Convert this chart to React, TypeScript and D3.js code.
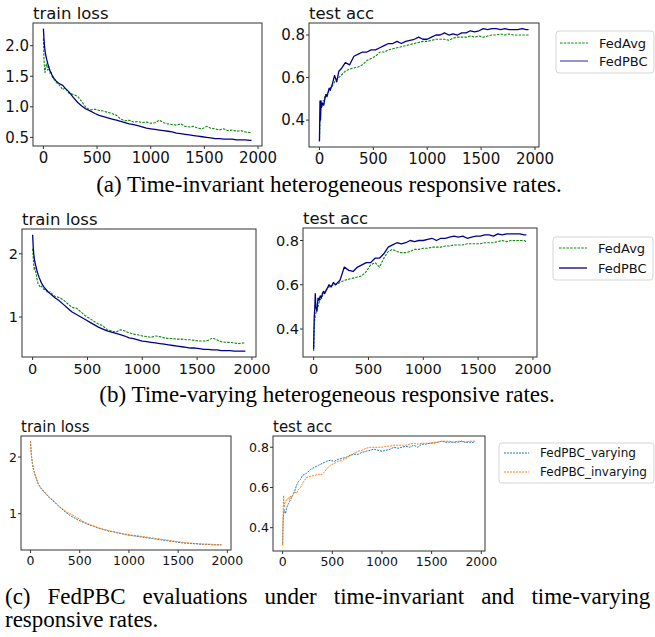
import React, { useEffect } from 'react';
import * as d3 from 'd3';

// Communication rounds at which values are sampled (shared by all series)
const ROUNDS = [0, 5, 10, 15, 20, 30, 40, 50, 60, 70, 80, 90, 100, 120, 140, 160, 180, 200, 240, 280, 320, 360, 400, 440, 480, 520, 560, 600, 640, 680, 720, 760, 800, 840, 880, 920, 960, 1000, 1040, 1080, 1120, 1160, 1200, 1240, 1280, 1320, 1360, 1400, 1440, 1480, 1520, 1560, 1600, 1640, 1680, 1720, 1760, 1800, 1840, 1880, 1920, 1940];

// (a) time-invariant
const A_LOSS_AVG = [2.12, 1.80, 1.62, 1.56, 1.66, 1.70, 1.60, 1.66, 1.55, 1.58, 1.50, 1.46, 1.45, 1.40, 1.37, 1.33, 1.28, 1.31, 1.22, 1.20, 1.17, 1.08, 0.98, 0.95, 0.96, 0.94, 0.93, 0.91, 0.89, 0.86, 0.80, 0.77, 0.78, 0.75, 0.76, 0.74, 0.75, 0.73, 0.74, 0.78, 0.74, 0.72, 0.71, 0.70, 0.72, 0.68, 0.67, 0.68, 0.65, 0.64, 0.68, 0.65, 0.64, 0.62, 0.64, 0.61, 0.62, 0.60, 0.61, 0.59, 0.58, 0.58];
const A_LOSS_PBC = [2.28, 2.12, 2.00, 1.92, 1.86, 1.78, 1.71, 1.65, 1.60, 1.56, 1.52, 1.49, 1.46, 1.42, 1.39, 1.37, 1.35, 1.31, 1.24, 1.15, 1.07, 1.01, 0.96, 0.93, 0.89, 0.86, 0.84, 0.82, 0.80, 0.78, 0.76, 0.74, 0.72, 0.71, 0.69, 0.67, 0.65, 0.64, 0.63, 0.62, 0.61, 0.60, 0.59, 0.57, 0.56, 0.55, 0.54, 0.53, 0.52, 0.51, 0.50, 0.49, 0.48, 0.48, 0.47, 0.47, 0.47, 0.46, 0.46, 0.46, 0.45, 0.45];
const A_ACC_AVG = [0.30, 0.40, 0.45, 0.47, 0.48, 0.49, 0.49, 0.51, 0.52, 0.52, 0.53, 0.54, 0.55, 0.56, 0.58, 0.59, 0.60, 0.61, 0.63, 0.64, 0.645, 0.65, 0.66, 0.68, 0.69, 0.70, 0.72, 0.72, 0.73, 0.735, 0.74, 0.745, 0.75, 0.755, 0.76, 0.765, 0.77, 0.77, 0.775, 0.78, 0.78, 0.78, 0.775, 0.785, 0.79, 0.79, 0.79, 0.795, 0.79, 0.795, 0.79, 0.795, 0.80, 0.80, 0.805, 0.80, 0.805, 0.80, 0.80, 0.80, 0.80, 0.80];
const A_ACC_PBC = [0.30, 0.49, 0.40, 0.49, 0.46, 0.48, 0.47, 0.50, 0.52, 0.51, 0.53, 0.55, 0.54, 0.57, 0.61, 0.58, 0.63, 0.64, 0.67, 0.66, 0.70, 0.71, 0.72, 0.72, 0.73, 0.73, 0.74, 0.75, 0.76, 0.76, 0.77, 0.76, 0.77, 0.775, 0.78, 0.79, 0.78, 0.78, 0.79, 0.80, 0.80, 0.81, 0.80, 0.805, 0.80, 0.81, 0.81, 0.82, 0.815, 0.82, 0.83, 0.825, 0.83, 0.83, 0.825, 0.83, 0.825, 0.825, 0.825, 0.83, 0.825, 0.825];

// (b) time-varying
const B_LOSS_AVG = [2.08, 1.95, 1.82, 1.75, 1.78, 1.70, 1.60, 1.52, 1.50, 1.47, 1.49, 1.46, 1.44, 1.43, 1.38, 1.40, 1.36, 1.33, 1.31, 1.27, 1.21, 1.15, 1.14, 1.08, 1.02, 0.98, 0.93, 0.89, 0.86, 0.80, 0.78, 0.76, 0.80, 0.78, 0.75, 0.73, 0.72, 0.70, 0.69, 0.68, 0.70, 0.69, 0.67, 0.66, 0.66, 0.65, 0.65, 0.64, 0.64, 0.63, 0.62, 0.62, 0.63, 0.67, 0.64, 0.61, 0.60, 0.60, 0.59, 0.58, 0.59, 0.59];
const B_LOSS_PBC = [2.30, 2.12, 2.00, 1.93, 1.87, 1.80, 1.73, 1.67, 1.62, 1.58, 1.54, 1.51, 1.48, 1.44, 1.40, 1.37, 1.34, 1.31, 1.26, 1.20, 1.14, 1.08, 1.04, 1.00, 0.96, 0.92, 0.88, 0.84, 0.81, 0.78, 0.76, 0.74, 0.72, 0.70, 0.67, 0.66, 0.64, 0.62, 0.61, 0.60, 0.59, 0.58, 0.57, 0.56, 0.55, 0.54, 0.53, 0.52, 0.51, 0.51, 0.50, 0.49, 0.49, 0.48, 0.48, 0.47, 0.47, 0.47, 0.46, 0.46, 0.46, 0.46];
const B_ACC_AVG = [0.30, 0.40, 0.44, 0.46, 0.47, 0.49, 0.50, 0.52, 0.53, 0.54, 0.55, 0.56, 0.57, 0.58, 0.59, 0.595, 0.60, 0.60, 0.61, 0.62, 0.625, 0.63, 0.635, 0.64, 0.66, 0.69, 0.70, 0.68, 0.72, 0.75, 0.76, 0.75, 0.745, 0.745, 0.75, 0.76, 0.76, 0.765, 0.765, 0.77, 0.77, 0.77, 0.775, 0.775, 0.78, 0.78, 0.78, 0.785, 0.785, 0.785, 0.785, 0.79, 0.79, 0.79, 0.795, 0.80, 0.795, 0.80, 0.80, 0.80, 0.80, 0.795];
const B_ACC_PBC = [0.31, 0.45, 0.49, 0.56, 0.50, 0.48, 0.54, 0.53, 0.55, 0.54, 0.56, 0.57, 0.56, 0.58, 0.60, 0.59, 0.61, 0.60, 0.62, 0.68, 0.665, 0.66, 0.68, 0.69, 0.70, 0.70, 0.72, 0.72, 0.74, 0.77, 0.78, 0.79, 0.785, 0.79, 0.80, 0.795, 0.80, 0.80, 0.805, 0.81, 0.80, 0.81, 0.81, 0.815, 0.82, 0.815, 0.82, 0.81, 0.815, 0.82, 0.82, 0.825, 0.825, 0.82, 0.83, 0.825, 0.83, 0.83, 0.83, 0.83, 0.825, 0.825];

// (c) FedPBC varying vs invarying
const C_LOSS_VAR = [2.28, 2.12, 2.02, 1.95, 1.88, 1.79, 1.72, 1.66, 1.61, 1.56, 1.52, 1.49, 1.46, 1.41, 1.38, 1.34, 1.30, 1.27, 1.21, 1.14, 1.08, 1.02, 0.97, 0.93, 0.89, 0.86, 0.83, 0.80, 0.78, 0.75, 0.73, 0.71, 0.69, 0.68, 0.66, 0.65, 0.63, 0.62, 0.61, 0.60, 0.59, 0.58, 0.57, 0.56, 0.55, 0.54, 0.53, 0.52, 0.51, 0.50, 0.49, 0.48, 0.48, 0.47, 0.47, 0.46, 0.46, 0.46, 0.45, 0.45, 0.45, 0.45];
const C_LOSS_INV = [2.28, 2.10, 2.00, 1.93, 1.87, 1.78, 1.72, 1.67, 1.62, 1.58, 1.53, 1.50, 1.47, 1.43, 1.39, 1.35, 1.31, 1.28, 1.22, 1.15, 1.09, 1.04, 1.00, 0.96, 0.92, 0.88, 0.84, 0.81, 0.78, 0.76, 0.73, 0.72, 0.70, 0.68, 0.67, 0.65, 0.64, 0.63, 0.62, 0.61, 0.60, 0.59, 0.58, 0.57, 0.56, 0.55, 0.54, 0.53, 0.52, 0.51, 0.50, 0.49, 0.48, 0.48, 0.47, 0.47, 0.46, 0.46, 0.46, 0.45, 0.45, 0.45];
const C_ACC_VAR = [0.32, 0.44, 0.47, 0.49, 0.48, 0.47, 0.50, 0.51, 0.52, 0.53, 0.54, 0.55, 0.56, 0.58, 0.61, 0.63, 0.64, 0.66, 0.67, 0.69, 0.70, 0.71, 0.72, 0.73, 0.735, 0.73, 0.74, 0.745, 0.75, 0.76, 0.765, 0.765, 0.775, 0.78, 0.785, 0.79, 0.785, 0.78, 0.785, 0.79, 0.80, 0.795, 0.80, 0.805, 0.80, 0.81, 0.80, 0.815, 0.815, 0.82, 0.82, 0.825, 0.83, 0.825, 0.825, 0.825, 0.825, 0.83, 0.825, 0.825, 0.825, 0.825];
const C_ACC_INV = [0.31, 0.47, 0.56, 0.50, 0.52, 0.53, 0.54, 0.54, 0.55, 0.54, 0.56, 0.55, 0.56, 0.58, 0.57, 0.59, 0.60, 0.62, 0.65, 0.655, 0.66, 0.665, 0.665, 0.69, 0.71, 0.72, 0.73, 0.735, 0.745, 0.76, 0.77, 0.78, 0.785, 0.795, 0.80, 0.80, 0.80, 0.80, 0.805, 0.805, 0.81, 0.81, 0.81, 0.81, 0.815, 0.82, 0.815, 0.82, 0.82, 0.82, 0.825, 0.825, 0.83, 0.83, 0.83, 0.825, 0.83, 0.83, 0.825, 0.83, 0.83, 0.83];

const X_TICKS = [0, 500, 1000, 1500, 2000];
const LOSS_TICKS_A = [0.5, 1.0, 1.5, 2.0];
const LOSS_TICKS_BC = [1, 2];
const ACC_TICKS = [0.4, 0.6, 0.8];

const LEGEND_AB = ['FedAvg', 'FedPBC'];
const LEGEND_C = ['FedPBC_varying', 'FedPBC_invarying'];

const CAPTION_A = '(a) Time-invariant heterogeneous responsive rates.';
const CAPTION_B = '(b) Time-varying heterogeneous responsive rates.';
const CAPTION_C1 = '(c) FedPBC evaluations under time-invariant and time-varying';
const CAPTION_C2 = 'responsive rates.';

const GREEN = '#0a8a0a';
const NAVY = '#00008b';
const TAB_BLUE = '#1f77b4';
const TAB_ORANGE = '#ff7f0e';
const SANS = 'DejaVu Sans, sans-serif';
const SERIF = 'Liberation Serif, Times New Roman, serif';

type Series = { values: number[]; color: string; dash?: string; width: number };

type PanelProps = {
  x0: number; x1: number; y0: number; y1: number;
  title: string; titleSize: number; tickSize: number;
  series: Series[]; yTicks: number[]; yFmt: (v: number) => string;
};

function Panel({ x0, x1, y0, y1, title, titleSize, tickSize, series, yTicks, yFmt }: PanelProps) {
  const [xmin, xmax] = d3.extent(ROUNDS) as [number, number];
  const xpad = (xmax - xmin) * 0.05;
  const x = d3.scaleLinear().domain([xmin - xpad, xmax + xpad]).range([x0, x1]);
  const allY = series.flatMap((s) => s.values);
  const [ymin, ymax] = d3.extent(allY) as [number, number];
  const ypad = (ymax - ymin) * 0.05;
  const y = d3.scaleLinear().domain([ymin - ypad, ymax + ypad]).range([y1, y0]);
  const line = d3.line<number>().x((_, i) => x(ROUNDS[i])).y((d) => y(d));
  const tl = 3;
  return (
    <g>
      <text x={x0} y={y0 - 4} fontSize={titleSize} fontFamily={SANS} fill="#111">{title}</text>
      {series.map((s, i) => (
        <path key={i} d={line(s.values) || ''} fill="none" stroke={s.color} strokeWidth={s.width}
          strokeDasharray={s.dash} strokeLinejoin="round" />
      ))}
      <rect x={x0} y={y0} width={x1 - x0} height={y1 - y0} fill="none" stroke="#333" strokeWidth={1} />
      {X_TICKS.map((t) => (
        <g key={'x' + t}>
          <line x1={x(t)} x2={x(t)} y1={y1} y2={y1 + tl} stroke="#333" />
          <text x={x(t)} y={y1 + tickSize + 2} textAnchor="middle" fontSize={tickSize} fontFamily={SANS} fill="#111">{t}</text>
        </g>
      ))}
      {yTicks.map((t) => (
        <g key={'y' + t}>
          <line x1={x0 - tl} x2={x0} y1={y(t)} y2={y(t)} stroke="#333" />
          <text x={x0 - tl - 1} y={y(t)} dy="0.36em" textAnchor="end" fontSize={tickSize} fontFamily={SANS} fill="#111">{yFmt(t)}</text>
        </g>
      ))}
    </g>
  );
}

type LegendProps = {
  x0: number; x1: number; y0: number; y1: number; fontSize: number;
  labels: string[]; colors: string[]; dashes: (string | undefined)[]; widths: number[];
  rowY: number[]; lineX0: number; lineX1: number; textX: number;
};

function Legend({ x0, x1, y0, y1, fontSize, labels, colors, dashes, widths, rowY, lineX0, lineX1, textX }: LegendProps) {
  return (
    <g>
      <rect x={x0} y={y0} width={x1 - x0} height={y1 - y0} rx={3} fill="#fff" stroke="#d5d5d5" strokeWidth={1} />
      {labels.map((l, i) => (
        <g key={l}>
          <line x1={lineX0} x2={lineX1} y1={rowY[i]} y2={rowY[i]} stroke={colors[i]} strokeWidth={widths[i]} strokeDasharray={dashes[i]} />
          <text x={textX} y={rowY[i]} dy="0.36em" fontSize={fontSize} fontFamily={SANS} fill="#111">{l}</text>
        </g>
      ))}
    </g>
  );
}

export default function App() {
  useEffect(() => {
    document.body.style.margin = '0';
  }, []);
  const f1 = (v: number) => d3.format('.1f')(v);
  const f0 = (v: number) => d3.format('d')(v);
  const DASH = '2.5,1.2';
  return (
    <svg width={655} height={637} style={{ position: 'absolute', left: 0, top: 0, background: '#fff' }}>
      <rect x={0} y={0} width={655} height={637} fill="#fff" />
      {/* (a) */}
      <Panel x0={33} x1={262} y0={23} y1={146} title="train loss" titleSize={16.5} tickSize={15}
        yTicks={LOSS_TICKS_A} yFmt={f1}
        series={[{ values: A_LOSS_AVG, color: GREEN, dash: DASH, width: 1.1 }, { values: A_LOSS_PBC, color: NAVY, width: 1.3 }]} />
      <Panel x0={309} x1={539} y0={23} y1={147} title="test acc" titleSize={16.5} tickSize={15}
        yTicks={ACC_TICKS} yFmt={f1}
        series={[{ values: A_ACC_AVG, color: GREEN, dash: DASH, width: 1.1 }, { values: A_ACC_PBC, color: NAVY, width: 1.3 }]} />
      <Legend x0={556} x1={654} y0={31} y1={73} fontSize={13} labels={LEGEND_AB}
        colors={[GREEN, '#5a5ab8']} dashes={[DASH, undefined]} widths={[1.1, 1.3]}
        rowY={[43, 61]} lineX0={560} lineX1={588} textX={599} />
      <text x={329} y={192} textAnchor="middle" fontSize={23} fontFamily={SERIF} fill="#000">{CAPTION_A}</text>

      {/* (b) */}
      <Panel x0={22} x1={256} y0={229} y1={357} title="train loss" titleSize={16.5} tickSize={14.5}
        yTicks={LOSS_TICKS_BC} yFmt={f0}
        series={[{ values: B_LOSS_AVG, color: GREEN, dash: DASH, width: 1.1 }, { values: B_LOSS_PBC, color: NAVY, width: 1.3 }]} />
      <Panel x0={303} x1={537} y0={228} y1={357} title="test acc" titleSize={16.5} tickSize={14.5}
        yTicks={ACC_TICKS} yFmt={f1}
        series={[{ values: B_ACC_AVG, color: GREEN, dash: DASH, width: 1.1 }, { values: B_ACC_PBC, color: NAVY, width: 1.3 }]} />
      <Legend x0={553} x1={653} y0={237} y1={280} fontSize={13} labels={LEGEND_AB}
        colors={[GREEN, NAVY]} dashes={[DASH, undefined]} widths={[1.1, 1.3]}
        rowY={[248, 268]} lineX0={559} lineX1={587} textX={598} />
      <text x={327} y={402} textAnchor="middle" fontSize={23} fontFamily={SERIF} fill="#000">{CAPTION_B}</text>

      {/* (c) */}
      <Panel x0={21} x1={231} y0={436} y1={550} title="train loss" titleSize={15} tickSize={12.5}
        yTicks={LOSS_TICKS_BC} yFmt={f0}
        series={[{ values: C_LOSS_VAR, color: TAB_BLUE, dash: '2,1', width: 1 }, { values: C_LOSS_INV, color: TAB_ORANGE, dash: '2,1', width: 1 }]} />
      <Panel x0={273} x1={485} y0={436} y1={551} title="test acc" titleSize={15} tickSize={12.5}
        yTicks={ACC_TICKS} yFmt={f1}
        series={[{ values: C_ACC_VAR, color: TAB_BLUE, dash: '2,1', width: 1 }, { values: C_ACC_INV, color: TAB_ORANGE, dash: '2,1', width: 1 }]} />
      <Legend x0={499} x1={654} y0={443} y1={483} fontSize={12} labels={LEGEND_C}
        colors={[TAB_BLUE, TAB_ORANGE]} dashes={['2,1', '2,1']} widths={[1, 1]}
        rowY={[453, 472]} lineX0={504} lineX1={529} textX={540} />
      <text x={5} y={604} fontSize={23} fontFamily={SERIF} fill="#000" style={{ wordSpacing: '11.3px' }}>{CAPTION_C1}</text>
      <text x={5} y={627} fontSize={23} fontFamily={SERIF} fill="#000">{CAPTION_C2}</text>
    </svg>
  );
}
